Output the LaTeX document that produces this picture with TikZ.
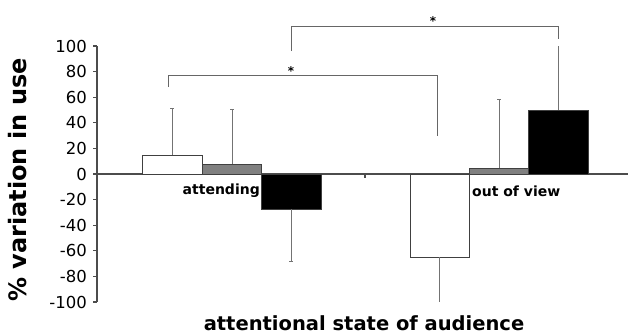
\documentclass[tikz,border=0pt]{standalone}
\usepackage{fontspec}
\setmainfont{DejaVu Sans}
\begin{document}
\begin{tikzpicture}[x=1pt,y=-1pt,
  barline/.style={draw=black!75, line width=0.9pt},
  errline/.style={draw=black!55, line width=0.9pt},
  brkline/.style={draw=black!60, line width=1pt},
  axisline/.style={draw=black!70, line width=1.1pt},
  ticklab/.style={font=\fontsize{16.5}{16.5}\selectfont, anchor=base east, inner sep=0pt},
  catlab/.style={font=\fontsize{14}{14}\bfseries\selectfont, inner sep=0pt},
  startext/.style={font=\fontsize{12}{12}\bfseries\selectfont, inner sep=0pt}]
\useasboundingbox (0,0) rectangle (628,335);
% axes
\draw[axisline] (97,46) -- (97,302);
\draw[axisline] (97,174) -- (628,174);
\foreach \v in {100,80,...,-100}{
  \pgfmathsetmacro{\yy}{174-1.28*\v}
  \draw[axisline] (93,\yy) -- (97,\yy);
  \node[ticklab] (t\v) at (87,\yy+6) {\v};
}
\draw[axisline] (365,174) -- (365,178);
% bars
\draw[barline, fill=white] (142,174) rectangle (202,155);
\draw[barline, fill=black!50] (202,174) rectangle (261,164);
\draw[barline, fill=black] (261,174) rectangle (321,209);
\draw[barline, fill=white] (410,174) rectangle (469,257);
\draw[barline, fill=black!50] (469,174) rectangle (528,168);
\draw[barline, fill=black] (528,174) rectangle (588,110);
% error bars
\draw[errline] (172,155) -- (172,108) (170,108) -- (174,108);
\draw[errline] (232,164) -- (232,109) (230,109) -- (234,109);
\draw[errline] (291,209) -- (291,261) (289,261) -- (293,261);
\draw[errline] (439,257) -- (439,302);
\draw[errline] (499,168) -- (499,99) (497,99) -- (501,99);
\draw[errline] (558,110) -- (558,46);
% brackets
\draw[brkline] (168,87) -- (168,75) -- (437,75) -- (437,136);
\node[startext] (s1) at (291,71) {*};
\draw[brkline] (291,51) -- (291,26) -- (558,26) -- (558,39);
\node[startext] (s2) at (433,21) {*};
% labels
\node[catlab, anchor=east] (att) at (260,191) {attending};
\node[catlab, anchor=west] (oov) at (472,191) {out of view};
\node[font=\fontsize{19.5}{19.5}\bfseries\selectfont, inner sep=0pt, anchor=base] (xl) at (364,330) {attentional state of audience};
\node[font=\fontsize{24}{24}\bfseries\selectfont, inner sep=0pt, rotate=90] (yl) at (18,180) {\% variation in use};
\end{tikzpicture}
\end{document}
